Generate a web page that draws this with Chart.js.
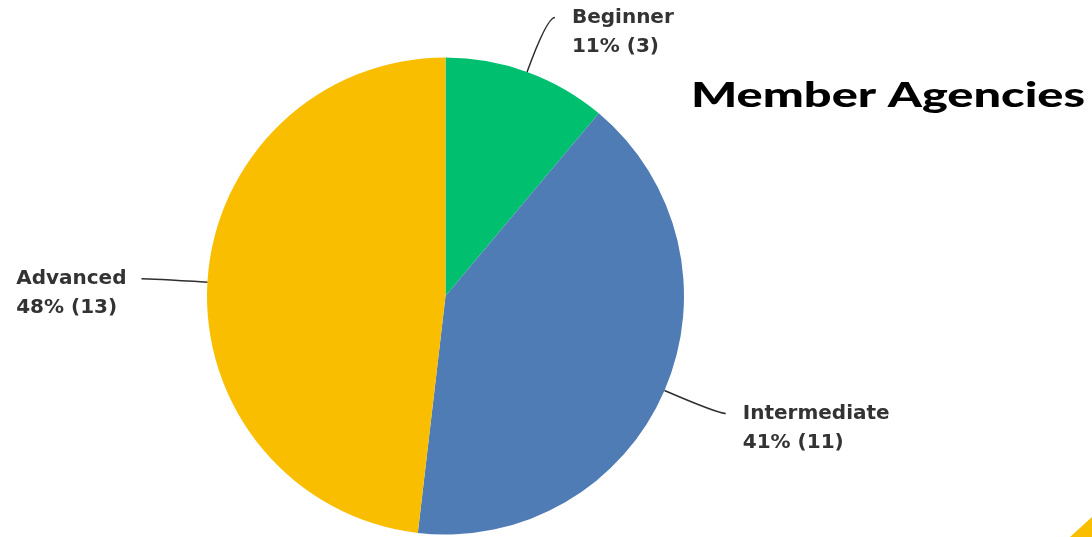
<!DOCTYPE html>
<html>
<head>
<meta charset="utf-8">
<script src="https://cdn.jsdelivr.net/npm/chart.js@4/dist/chart.umd.min.js"></script>
<style>
  html, body { margin: 0; padding: 0; background: #fff; }
  #wrap { width: 1092px; height: 537px; }
</style>
</head>
<body>
<div id="wrap"><canvas id="pie" width="1092" height="537"></canvas></div>
<script>
const levels = ["Beginner", "Intermediate", "Advanced"];
const counts = [3, 11, 13];
const percentLabels = ["11%", "41%", "48%"];
const sliceColors = ["#00bf6f", "#507cb6", "#f9be00"];
const chartTitle = "Member Agencies";

// leader lines + two-line labels beside each slice
const sliceLabels = {
  id: "sliceLabels",
  afterDatasetsDraw(chart) {
    const ctx = chart.ctx;
    const arcs = chart.getDatasetMeta(0).data;
    ctx.save();
    arcs.forEach((arc, i) => {
      const { x, y, outerRadius, startAngle, endAngle } = arc.getProps(
        ["x", "y", "outerRadius", "startAngle", "endAngle"], true);
      const mid = (startAngle + endAngle) / 2;
      const cos = Math.cos(mid), sin = Math.sin(mid);
      const side = cos >= 0 ? 1 : -1;

      const sx = x + outerRadius * cos, sy = y + outerRadius * sin;
      const cx = x + (outerRadius + 58) * cos, cy = y + (outerRadius + 58) * sin;
      const ex = cx + side * 8, ey = cy;

      ctx.strokeStyle = "#2e2e2e";
      ctx.lineWidth = 1.5;
      ctx.beginPath();
      ctx.moveTo(sx, sy);
      ctx.quadraticCurveTo(cx, cy, ex, ey);
      ctx.stroke();

      ctx.fillStyle = "#333333";
      ctx.font = "bold 20px 'DejaVu Sans'";
      ctx.textBaseline = "middle";
      const line1 = levels[i];
      const line2 = percentLabels[i] + " (" + counts[i] + ")";
      let tx;
      if (side > 0) {
        tx = ex + 17;
      } else {
        const w = Math.max(ctx.measureText(line1).width, ctx.measureText(line2).width);
        tx = ex - 15 - w;
      }
      ctx.textAlign = "left";
      ctx.fillText(line1, tx, ey);
      ctx.fillText(line2, tx, ey + 29);
    });

    // heading on the right, stretched a little to a wide humanist look
    ctx.fillStyle = "#000";
    ctx.font = "900 35px Lato";
    ctx.textBaseline = "alphabetic";
    const tw = ctx.measureText(chartTitle).width;
    ctx.save();
    ctx.translate(691, 107);
    ctx.scale(394 / tw, 1);
    ctx.fillText(chartTitle, 0, 0);
    ctx.restore();

    // small yellow corner accent
    ctx.fillStyle = "#f9be00";
    ctx.beginPath();
    ctx.moveTo(1070, 537);
    ctx.lineTo(1092, 537);
    ctx.lineTo(1092, 517);
    ctx.closePath();
    ctx.fill();
    ctx.restore();
  }
};

new Chart(document.getElementById("pie"), {
  type: "pie",
  data: {
    labels: levels,
    datasets: [{
      data: counts,
      backgroundColor: sliceColors,
      borderWidth: 0
    }]
  },
  options: {
    responsive: false,
    animation: false,
    layout: { padding: { left: 207, right: 408, top: 57, bottom: 2 } },
    plugins: {
      legend: { display: false },
      tooltip: { enabled: false }
    }
  },
  plugins: [sliceLabels]
});
</script>
</body>
</html>
